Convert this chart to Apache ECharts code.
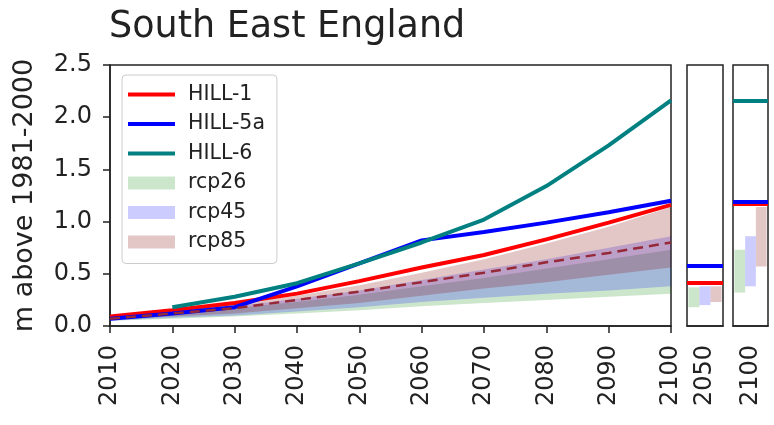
<!DOCTYPE html>
<html>
<head>
<meta charset="utf-8">
<script src="https://cdn.jsdelivr.net/npm/echarts@6/dist/echarts.min.js"></script>
<style>
  html, body { margin: 0; padding: 0; background: #fff; }
  #chart { width: 774px; height: 425px; }
</style>
</head>
<body>
<div id="chart"></div>
<script>
// main panel data (m above 1981-2000)
var years = ['2010', '2020', '2030', '2040', '2050', '2060', '2070', '2080', '2090', '2100'];
var hill1 = [0.09, 0.15, 0.22, 0.31, 0.43, 0.56, 0.68, 0.83, 0.99, 1.16];
var hill5a = [0.07, 0.12, 0.18, 0.38, 0.60, 0.82, 0.90, 0.99, 1.09, 1.20];
var hill6 = [null, 0.18, 0.28, 0.41, 0.60, 0.80, 1.02, 1.34, 1.73, 2.16];
var rcp85Mid = [0.07, 0.12, 0.17, 0.25, 0.33, 0.42, 0.51, 0.61, 0.70, 0.80];
var rcp26Lo = [0.05, 0.07, 0.09, 0.12, 0.15, 0.19, 0.22, 0.25, 0.28, 0.31];
var rcp26Hi = [0.08, 0.12, 0.17, 0.23, 0.30, 0.38, 0.46, 0.55, 0.64, 0.73];
var rcp45Lo = [0.05, 0.08, 0.10, 0.14, 0.18, 0.23, 0.27, 0.31, 0.34, 0.38];
var rcp45Hi = [0.08, 0.13, 0.19, 0.26, 0.34, 0.44, 0.54, 0.64, 0.75, 0.86];
var rcp85Lo = [0.06, 0.09, 0.12, 0.17, 0.22, 0.29, 0.36, 0.42, 0.49, 0.56];
var rcp85Hi = [0.09, 0.14, 0.21, 0.29, 0.39, 0.51, 0.64, 0.79, 0.95, 1.14];
var yTicks = [0, 0.5, 1.0, 1.5, 2.0, 2.5];

// side panels (2050, 2100)
var panelYears = ['2050', '2100'];
var panelHill1 = [0.41, 1.17];
var panelHill5a = [0.58, 1.19];
var panelHill6 = [null, 2.16];
var panelRcp26 = [[0.18, 0.37], [0.32, 0.73]];
var panelRcp45 = [[0.20, 0.38], [0.38, 0.86]];
var panelRcp85 = [[0.23, 0.38], [0.57, 1.14]];

var FONT = 'DejaVu Sans';
var INK = '#222';
var C_RED = '#ff0000', C_BLUE = '#0000ff', C_TEAL = '#008080', C_DASH = '#962838';
var BAND = {
	rcp26: 'rgba(0,128,0,0.2)',
	rcp45: 'rgba(0,0,255,0.2)',
	rcp85: 'rgba(128,0,0,0.22)'
};

var series = [];

// shaded ranges: transparent lower edge + stacked width
function band(name, lo, hi) {
	series.push({
		name: name + '-lo', type: 'line', stack: name, xAxisIndex: 0, yAxisIndex: 0,
		data: lo, symbol: 'none', lineStyle: { width: 0, opacity: 0 }, silent: true, z: 2
	});
	series.push({
		name: name, type: 'line', stack: name, xAxisIndex: 0, yAxisIndex: 0,
		data: hi.map(function(v, i) { return +(v - lo[i]).toFixed(3); }),
		symbol: 'none', lineStyle: { width: 0, opacity: 0 }, color: BAND[name],
		areaStyle: { color: BAND[name], opacity: 1 }, silent: true, z: 2
	});
}
band('rcp26', rcp26Lo, rcp26Hi);
band('rcp45', rcp45Lo, rcp45Hi);
band('rcp85', rcp85Lo, rcp85Hi);

function line(name, vals, color, extra) {
	var s = {
		name: name, type: 'line', xAxisIndex: 0, yAxisIndex: 0,
		data: vals, symbol: 'none', color: color, connectNulls: false,
		lineStyle: { color: color, width: 4 }, z: 3
	};
	Object.assign(s, extra || {});
	series.push(s);
}
line('HILL-1', hill1, C_RED);
line('HILL-5a', hill5a, C_BLUE);
line('HILL-6', hill6, C_TEAL);
line('rcp85-median', rcp85Mid, C_DASH, {
	lineStyle: { color: C_DASH, width: 2.5, type: [10, 6] }, z: 4
});

// side panels: floating bars + HILL levels
[panelRcp26, panelRcp45, panelRcp85].forEach(function(rng, k) {
	var key = ['rcp26', 'rcp45', 'rcp85'][k];
	panelYears.forEach(function(py, p) {
		series.push({
			name: key + '-' + py + '-base', type: 'bar', stack: key + py,
			xAxisIndex: p + 1, yAxisIndex: p + 1, data: [rng[p][0]],
			itemStyle: { color: 'rgba(0,0,0,0)' }, barGap: '0%', barCategoryGap: '8%', silent: true
		});
		series.push({
			name: key + '-' + py, type: 'bar', stack: key + py,
			xAxisIndex: p + 1, yAxisIndex: p + 1,
			data: [+(rng[p][1] - rng[p][0]).toFixed(3)],
			itemStyle: { color: BAND[key] }, barGap: '0%', barCategoryGap: '8%', silent: true
		});
	});
});

panelYears.forEach(function(py, p) {
	var marks = [];
	[[panelHill6, C_TEAL], [panelHill1, C_RED], [panelHill5a, C_BLUE]].forEach(function(h) {
		if (h[0][p] != null) {
			marks.push({ yAxis: h[0][p], lineStyle: { color: h[1], width: 4, type: 'solid' } });
		}
	});
	series.push({
		name: 'levels-' + py, type: 'line', xAxisIndex: p + 1, yAxisIndex: p + 1,
		data: [], markLine: {
			silent: true, symbol: ['none', 'none'], label: { show: false },
			animation: false, data: marks
		}
	});
});

var frame = { show: true, borderColor: INK, borderWidth: 1.5 };
var tickLabel = { rotate: 90, fontSize: 24, color: INK, margin: 19, fontFamily: FONT };

var option = {
	animation: false,
	textStyle: { fontFamily: FONT },
	title: {
		text: 'South East England', left: 109, top: 9, padding: 0,
		textStyle: { fontFamily: FONT, fontSize: 36.5, fontWeight: 'normal', color: INK }
	},
	legend: {
		left: 122, top: 75, orient: 'vertical',
		padding: [9, 12, 11, 6], itemGap: 8.5, itemWidth: 47, itemHeight: 13,
		borderColor: '#ccc', borderWidth: 1, borderRadius: 4, backgroundColor: 'rgba(255,255,255,0.85)',
		textStyle: { fontFamily: FONT, fontSize: 20.5, color: INK, padding: [0, 0, 0, 8] },
		selectedMode: false,
		data: [
			{ name: 'HILL-1', icon: 'path://M0,0H47V4H0Z', itemStyle: { color: C_RED, borderWidth: 0 } },
			{ name: 'HILL-5a', icon: 'path://M0,0H47V4H0Z', itemStyle: { color: C_BLUE, borderWidth: 0 } },
			{ name: 'HILL-6', icon: 'path://M0,0H47V4H0Z', itemStyle: { color: C_TEAL, borderWidth: 0 } },
			{ name: 'rcp26', icon: 'rect', itemStyle: { color: BAND.rcp26, borderWidth: 0 } },
			{ name: 'rcp45', icon: 'rect', itemStyle: { color: BAND.rcp45, borderWidth: 0 } },
			{ name: 'rcp85', icon: 'rect', itemStyle: { color: BAND.rcp85, borderWidth: 0 } }
		]
	},
	grid: [
		Object.assign({ left: 110, right: 103, top: 65, bottom: 99 }, frame),
		Object.assign({ left: 687, width: 36, top: 65, bottom: 99 }, frame),
		Object.assign({ left: 733, width: 35, top: 65, bottom: 99 }, frame)
	],
	xAxis: [
		{
			type: 'category', gridIndex: 0, data: years, boundaryGap: false,
			splitLine: { show: false },
			axisLine: { show: true, lineStyle: { color: INK, width: 1.5 } },
			axisTick: { show: true, length: 7, lineStyle: { color: INK, width: 1.5 } },
			axisLabel: Object.assign({ interval: 0 }, tickLabel)
		},
		{
			type: 'category', gridIndex: 1, data: [panelYears[0]],
			axisLine: { show: true, lineStyle: { color: INK, width: 1.5 } },
			axisTick: { show: false },
			axisLabel: tickLabel
		},
		{
			type: 'category', gridIndex: 2, data: [panelYears[1]],
			axisLine: { show: true, lineStyle: { color: INK, width: 1.5 } },
			axisTick: { show: false },
			axisLabel: tickLabel
		}
	],
	yAxis: [
		{
			type: 'value', gridIndex: 0, min: yTicks[0], max: yTicks[yTicks.length - 1], interval: 0.5,
			name: 'm above 1981-2000', nameLocation: 'middle', nameRotate: 90, nameGap: 72,
			nameTextStyle: { fontFamily: FONT, fontSize: 27, color: INK },
			splitLine: { show: false },
			axisLine: { show: true, lineStyle: { color: INK, width: 1.5 } },
			axisTick: { show: true, length: 7, lineStyle: { color: INK, width: 1.5 } },
			axisLabel: { fontSize: 24, color: INK, margin: 18, fontFamily: FONT,
				formatter: function(v) { return v.toFixed(1); } }
		},
		{
			type: 'value', gridIndex: 1, min: 0, max: 2.5,
			axisLine: { show: false }, axisTick: { show: false },
			axisLabel: { show: false }, splitLine: { show: false }
		},
		{
			type: 'value', gridIndex: 2, min: 0, max: 2.5,
			axisLine: { show: false }, axisTick: { show: false },
			axisLabel: { show: false }, splitLine: { show: false }
		}
	],
	series: series
};

var chart = echarts.init(document.getElementById('chart'), null, { renderer: 'canvas' });
chart.setOption(option);
</script>
</body>
</html>
